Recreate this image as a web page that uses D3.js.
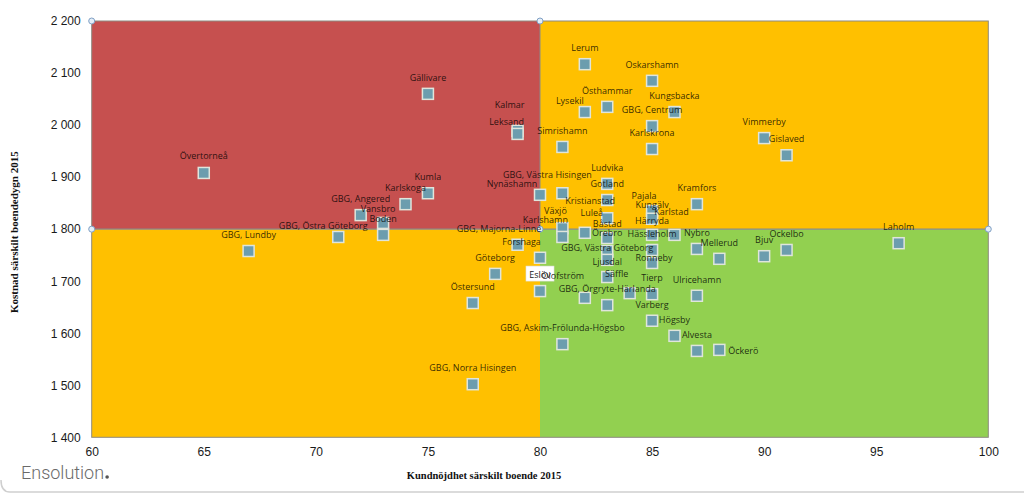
<!DOCTYPE html>
<html>
<head>
<meta charset="utf-8">
<script src="https://cdn.jsdelivr.net/npm/d3@7"></script>
<style>
  html, body { margin: 0; padding: 0; background: #fff; }
  svg { display: block; }
</style>
</head>
<body>
<svg id="chart" width="1024" height="494"></svg>
<script>
// ---------------- DATA ----------------
const names = [
  "Övertorneå", "GBG, Lundby", "GBG, Östra Göteborg", "GBG, Angered", "Vansbro", "Boden",
  "Karlskoga", "Kumla", "Gällivare", "Kalmar", "Leksand", "Lerum", "Oskarshamn", "Östhammar",
  "Lysekil", "GBG, Centrum", "Kungsbacka", "Karlskrona", "Simrishamn", "Vimmerby", "Gislaved",
  "Kramfors", "Nynäshamn", "GBG, Västra Hisingen", "Ludvika", "Gotland", "Kristianstad", "Luleå",
  "Båstad", "Örebro", "GBG, Västra Göteborg", "Ljusdal", "GBG, Örgryte-Härlanda", "Säffle",
  "Olofström", "Eslöv", "GBG, Majorna-Linné", "Växjö", "Karlshamn", "Forshaga", "Göteborg",
  "Östersund", "GBG, Askim-Frölunda-Högsbo", "GBG, Norra Hisingen", "Pajala", "Kungälv",
  "Karlstad", "Härryda", "Hässleholm", "Ronneby", "Tierp", "Varberg", "Högsby", "Alvesta",
  "Öckerö", "Ulricehamn", "Nybro", "Mellerud", "Bjuv", "Ockelbo", "Laholm"
];
const satisfaction = [
  65, 67, 71, 72, 73, 73,
  74, 75, 75, 79, 79, 82, 85, 83,
  82, 85, 86, 85, 81, 90, 91,
  87, 80, 81, 83, 83, 83, 82,
  83, 83, 83, 83, 83, 84,
  82, 80, 80, 81, 81, 79, 78,
  77, 81, 77, 85, 85,
  86, 85, 85, 85, 85, 85, 86, 87,
  88, 87, 87, 88, 90, 91, 96
];
const cost = [
  1908, 1758, 1785, 1827, 1812, 1789,
  1848, 1869, 2060, 1989, 1983, 2117, 2085, 2035,
  2025, 1998, 2025, 1954, 1958, 1975, 1942,
  1848, 1866, 1869, 1887, 1856, 1821, 1793,
  1783, 1758, 1741, 1708, 1654, 1677,
  1668, 1681, 1745, 1802, 1785, 1770, 1714,
  1658, 1579, 1502, 1835, 1820,
  1789, 1789, 1760, 1735, 1675, 1624, 1595, 1566,
  1568, 1672, 1762, 1743, 1748, 1760, 1773
];
const xTicks = [60, 65, 70, 75, 80, 85, 90, 95, 100];
const yTicks = [1400, 1500, 1600, 1700, 1800, 1900, 2000, 2100, 2200];
const xSplit = 80;
const ySplit = 1800;
const xTitle = "Kundnöjdhet särskilt boende 2015";
const yTitle = "Kostnad särskilt boendedygn 2015";
const logoText = "Ensolution";

// Label nudges (pixels, label centre relative to marker) – layout only
const labelNudge = {
  "Övertorneå": [0, -17],
  "GBG, Östra Göteborg": [-15, -11],
  "Vansbro": [-5, -14],
  "Kalmar": [-8, -26],
  "Leksand": [-11, -12],
  "Lysekil": [-15, -11],
  "Nynäshamn": [-28, -11],
  "GBG, Västra Hisingen": [-15, -18],
  "Kristianstad": [-17, -17],
  "Luleå": [7, -20],
  "Båstad": [0, -14],
  "Örebro": [0, -18],
  "GBG, Västra Göteborg": [0, -12],
  "Ljusdal": [0, -15],
  "Säffle": [-13, -19],
  "Olofström": [-22, -22],
  "GBG, Majorna-Linné": [-41, -29],
  "Växjö": [-7, -17],
  "Karlshamn": [-17, -17],
  "Forshaga": [4, -3],
  "Pajala": [-8, -15],
  "Kungälv": [0, -14],
  "Karlstad": [-3, -23],
  "Härryda": [0, -14],
  "Ronneby": [2, -5],
  "Öckerö": [24, 1]
};

// ---------------- CHART ----------------
const svg = d3.select("#chart");
const W = 1024, H = 494;
const plot = { left: 91.7, right: 988.3, top: 21, bottom: 437.3 };

const x = d3.scaleLinear().domain([60, 100]).range([plot.left, plot.right]);
const y = d3.scaleLinear().domain([1400, 2200]).range([plot.bottom, plot.top]);

const fmt = d3.formatLocale({ decimal: ",", thousands: " ", grouping: [3], currency: ["", " kr"] }).format(",d");

// Quadrants
const quads = [
  { x0: 60, x1: xSplit, y0: ySplit, y1: 2200, c: "#c6504f" },
  { x0: xSplit, x1: 100, y0: ySplit, y1: 2200, c: "#ffc000" },
  { x0: 60, x1: xSplit, y0: 1400, y1: ySplit, c: "#ffc000" },
  { x0: xSplit, x1: 100, y0: 1400, y1: ySplit, c: "#92d050" }
];
svg.append("g").selectAll("rect").data(quads).join("rect")
  .attr("x", d => x(d.x0)).attr("y", d => y(d.y1))
  .attr("width", d => x(d.x1) - x(d.x0)).attr("height", d => y(d.y0) - y(d.y1))
  .attr("fill", d => d.c);

// plot border
svg.append("rect")
  .attr("x", x(60)).attr("y", y(2200))
  .attr("width", x(100) - x(60)).attr("height", y(1400) - y(2200))
  .attr("fill", "none").attr("stroke", "#8e8a80").attr("stroke-width", 1);

// quadrant dividing lines
svg.append("line")
  .attr("x1", x(60)).attr("x2", x(100)).attr("y1", y(ySplit)).attr("y2", y(ySplit))
  .attr("stroke", "#8a8a8a").attr("stroke-width", 1.2);
svg.append("line")
  .attr("x1", x(xSplit)).attr("x2", x(xSplit)).attr("y1", y(ySplit)).attr("y2", y(2200))
  .attr("stroke", "#8a8a8a").attr("stroke-width", 1);

// Y axis
const yAxis = svg.append("g").attr("transform", `translate(${plot.left - 11},0)`)
  .call(d3.axisLeft(y).tickValues(yTicks).tickFormat(fmt).tickSize(0).tickPadding(0));
yAxis.select(".domain").remove();
yAxis.selectAll("text").attr("font-family", "Liberation Sans, Arial, sans-serif")
  .attr("font-size", 12).attr("fill", "#1a1a1a");

// X axis
const xAxis = svg.append("g").attr("transform", `translate(0,${plot.bottom + 10})`)
  .call(d3.axisBottom(x).tickValues(xTicks).tickFormat(d3.format("d")).tickSize(0).tickPadding(0));
xAxis.select(".domain").remove();
xAxis.selectAll("text").attr("font-family", "Liberation Sans, Arial, sans-serif")
  .attr("font-size", 12).attr("fill", "#1a1a1a");

// axis titles
svg.append("text").text(xTitle)
  .attr("x", 484).attr("y", 479).attr("text-anchor", "middle")
  .attr("font-family", "Liberation Serif, Times New Roman, serif").attr("font-weight", "bold")
  .attr("font-size", 10.5).attr("fill", "#111");
svg.append("text").text(yTitle)
  .attr("transform", `translate(18,${(plot.top + plot.bottom) / 2 + 3}) rotate(-90)`)
  .attr("text-anchor", "middle")
  .attr("font-family", "Liberation Serif, Times New Roman, serif").attr("font-weight", "bold")
  .attr("font-size", 11).attr("fill", "#111");

// endpoints circles of the quadrant lines
const ends = [[60, 2200], [xSplit, 2200], [60, ySplit], [xSplit, ySplit], [100, ySplit]];
svg.append("g").selectAll("circle").data(ends).join("circle")
  .attr("cx", d => x(d[0])).attr("cy", d => y(d[1])).attr("r", 3)
  .attr("fill", "#e4eef8").attr("stroke", "#7f9fc4").attr("stroke-width", 1);

// points
const pts = names.map((n, i) => ({ name: n, sx: satisfaction[i], cy: cost[i] }));
const S = 11;
svg.append("g").selectAll("rect").data(pts).join("rect")
  .attr("x", d => x(d.sx) - S / 2).attr("y", d => y(d.cy) - S / 2)
  .attr("width", S).attr("height", S)
  .attr("fill", "#6c9dae").attr("stroke", "#dfe5dc").attr("stroke-width", 1.5);

// Eslöv white label box
const esl = pts.find(p => p.name === "Eslöv");
const labels = svg.append("g")
  .attr("font-family", "Open Sans, Noto Sans, sans-serif").attr("font-size", 9);
labels.append("rect")
  .attr("x", x(esl.sx) - 14).attr("y", y(esl.cy) - 25)
  .attr("width", 28).attr("height", 15)
  .attr("fill", "#ffffff").attr("stroke", "#e0e0e0").attr("stroke-width", 0.6);

labels.selectAll("text").data(pts).join("text")
  .text(d => d.name)
  .attr("x", d => x(d.sx) + (labelNudge[d.name] || [0, -16])[0])
  .attr("y", d => y(d.cy) + (labelNudge[d.name] || [0, -16])[1] + 3)
  .attr("text-anchor", "middle")
  .attr("fill", d => d.name === "Eslöv" ? "#222" : "rgba(0,0,0,0.8)");

// logo
const logo = svg.append("text").text(logoText)
  .attr("x", 21).attr("y", 479)
  .attr("font-family", "Roboto, Liberation Sans, sans-serif").attr("font-weight", 300)
  .attr("font-size", 18).attr("fill", "#6a6a6a");
const lw = logo.node().getComputedTextLength();
svg.append("circle").attr("cx", 21 + lw + 3).attr("cy", 477).attr("r", 1.8).attr("fill", "#555");

// bottom frame
svg.append("path")
  .attr("d", `M1,480 Q1,492 10,492 L${W},492`)
  .attr("fill", "none").attr("stroke", "#cfcfcf").attr("stroke-width", 1.5);
</script>
</body>
</html>
